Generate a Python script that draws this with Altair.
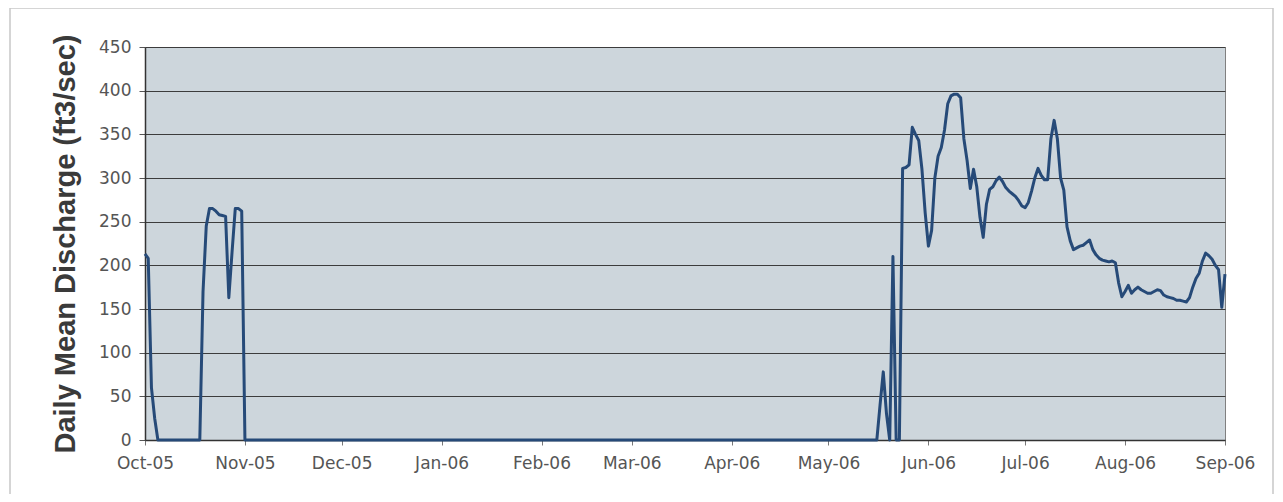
import altair as alt
import pandas as pd

# Daily mean discharge, Oct-2005 .. Sep-2006
dates = [
    "2005-10-01", "2005-10-02", "2005-10-03", "2005-10-04", "2005-10-05",
    "2005-10-18", "2005-10-19", "2005-10-20", "2005-10-21", "2005-10-22",
    "2005-10-23", "2005-10-24", "2005-10-25", "2005-10-26", "2005-10-27",
    "2005-10-28", "2005-10-29", "2005-10-30", "2005-10-31", "2005-11-01",
    "2006-05-16", "2006-05-17", "2006-05-18", "2006-05-19", "2006-05-20",
    "2006-05-21", "2006-05-22", "2006-05-23", "2006-05-24", "2006-05-25",
    "2006-05-26", "2006-05-27", "2006-05-28", "2006-05-29", "2006-05-30",
    "2006-05-31", "2006-06-01", "2006-06-02", "2006-06-03", "2006-06-04",
    "2006-06-05", "2006-06-06", "2006-06-07", "2006-06-08", "2006-06-09",
    "2006-06-10", "2006-06-11", "2006-06-12", "2006-06-13", "2006-06-14",
    "2006-06-15", "2006-06-16", "2006-06-17", "2006-06-18", "2006-06-19",
    "2006-06-20", "2006-06-21", "2006-06-22", "2006-06-23", "2006-06-24",
    "2006-06-25", "2006-06-26", "2006-06-27", "2006-06-28", "2006-06-29",
    "2006-06-30", "2006-07-01", "2006-07-02", "2006-07-03", "2006-07-04",
    "2006-07-05", "2006-07-06", "2006-07-07", "2006-07-08", "2006-07-09",
    "2006-07-10", "2006-07-11", "2006-07-12", "2006-07-13", "2006-07-14",
    "2006-07-15", "2006-07-16", "2006-07-17", "2006-07-18", "2006-07-19",
    "2006-07-20", "2006-07-21", "2006-07-22", "2006-07-23", "2006-07-24",
    "2006-07-25", "2006-07-26", "2006-07-27", "2006-07-28", "2006-07-29",
    "2006-07-30", "2006-07-31", "2006-08-01", "2006-08-02", "2006-08-03",
    "2006-08-04", "2006-08-05", "2006-08-06", "2006-08-07", "2006-08-08",
    "2006-08-09", "2006-08-10", "2006-08-11", "2006-08-12", "2006-08-13",
    "2006-08-14", "2006-08-15", "2006-08-16", "2006-08-17", "2006-08-18",
    "2006-08-19", "2006-08-20", "2006-08-21", "2006-08-22", "2006-08-23",
    "2006-08-24", "2006-08-25", "2006-08-26", "2006-08-27", "2006-08-28",
    "2006-08-29", "2006-08-30", "2006-08-31", "2006-09-01",
]
discharge = [
    213, 208, 60, 25, 0,
    0, 170, 245, 265, 265,
    262, 258, 257, 256, 163,
    215, 265, 265, 262, 0,
    0, 40, 78, 30, 0,
    210, 0, 0, 311, 312,
    315, 358, 350, 343, 310,
    260, 222, 240, 300, 325,
    335, 355, 385, 394, 396,
    396, 392, 345, 320, 288,
    310, 290, 255, 232, 270,
    287, 290, 297, 301, 296,
    289, 285, 282, 279, 274,
    268, 266, 272, 285, 300,
    311, 303, 298, 298, 345,
    366, 345, 300, 286, 244,
    228, 218, 220, 222, 223,
    226, 229, 218, 212, 208,
    206, 205, 204, 205, 203,
    180, 164, 170, 177, 168,
    172, 175, 172, 170, 168,
    168, 170, 172, 171, 166,
    164, 163, 162, 160, 160,
    159, 158, 163, 175, 185,
    191, 205, 214, 211, 207,
    200, 195, 152, 190,
]
y_ticks = [0, 50, 100, 150, 200, 250, 300, 350, 400, 450]

df = pd.DataFrame({"date": dates, "q": discharge})

x_dom = [alt.DateTime(year=2005, month=10, date=1, utc=True),
         alt.DateTime(year=2006, month=9, date=1, utc=True)]

line = alt.Chart(df).mark_line(color="#264a78", strokeWidth=3, strokeJoin="round").encode(
    x=alt.X("date:T",
            scale=alt.Scale(type="utc", domain=x_dom),
            axis=alt.Axis(title=None, format="%b-%y",
                          tickCount={"interval": "month", "step": 1},
                          labelFlush=False, labelOverlap=False, labelBound=False,
                          grid=False, tickSize=5, tickColor="#777",
                          labelPadding=10, labelFont="DejaVu Sans", labelFontSize=17,
                          labelColor="#555555", domainColor="#333", domainWidth=1.5)),
    y=alt.Y("q:Q",
            scale=alt.Scale(domain=[0, 450], nice=False),
            axis=alt.Axis(title="Daily Mean Discharge (ft3/sec)", values=y_ticks,
                          grid=True, gridColor="#3c3c3c", gridWidth=1,
                          tickSize=6, tickColor="#555", labelPadding=8,
                          labelFont="DejaVu Sans", labelFontSize=17, labelColor="#555555",
                          domainColor="#333", domainWidth=1.5,
                          titleFont="Liberation Sans", titleFontSize=29,
                          titleFontWeight="bold", titleColor="#3a3a3a",
                          titleX=-65, titleY=196.5, titleAngle=270,
                          titleBaseline="bottom", titleAlign="center")),
)

frame = alt.Chart(pd.DataFrame({"a": [0]})).mark_rect(
    fill="transparent", stroke="#c8c8c8", strokeWidth=1.5
).encode(
    x=alt.value(-135), x2=alt.value(1128), y=alt.value(-39), y2=alt.value(450)
)

chart = alt.layer(frame, line).properties(
    width=1080, height=393,
    background="white",
    autosize=alt.AutoSizeParams(type="none"),
    padding={"left": 137, "top": 39, "right": 50, "bottom": 54},
).configure_view(
    fill="#cdd6dc", stroke="#808080", strokeWidth=1
)

chart.save("out.html", embed_options={"renderer": "svg", "actions": False})
